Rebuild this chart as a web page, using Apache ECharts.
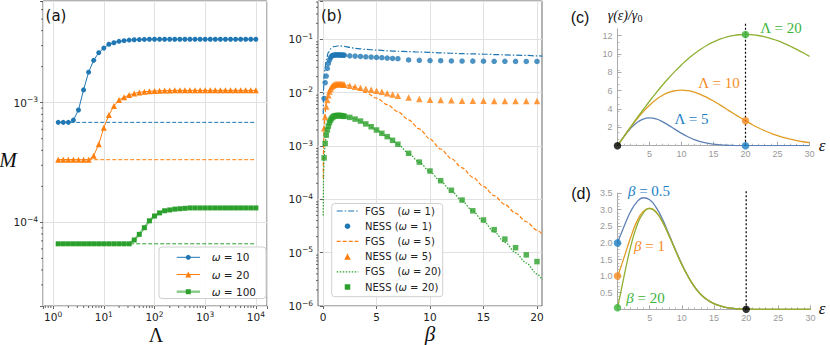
<!DOCTYPE html>
<html><head><meta charset="utf-8">
<script src="https://cdn.jsdelivr.net/npm/echarts@6/dist/echarts.min.js"></script>
<style>html,body{margin:0;padding:0;background:#fff}#c{width:830px;height:345px}</style>
</head><body><div id="c"></div>
<script>
// ---------- Panel (a): M vs Lambda ----------
const lambdaVals = [1.259,1.585,1.995,2.512,3.162,3.981,5.012,6.310,7.943,10,
  12.59,15.85,19.95,25.12,31.62,39.81,50.12,63.10,79.43,100,
  125.9,158.5,199.5,251.2,316.2,398.1,501.2,631.0,794.3,1000,
  1259,1585,1995,2512,3162,3981,5012,6310,7943,10000];
const mOmega10 = [6.85e-4,6.85e-4,6.85e-4,7.16e-4,8.69e-4,1.28e-3,1.80e-3,2.26e-3,2.62e-3,2.86e-3,
  3.08e-3,3.17e-3,3.26e-3,3.30e-3,3.34e-3,3.36e-3,3.37e-3,3.38e-3,3.39e-3,3.39e-3,
  3.39e-3,3.39e-3,3.39e-3,3.39e-3,3.39e-3,3.39e-3,3.39e-3,3.39e-3,3.39e-3,3.39e-3,
  3.39e-3,3.39e-3,3.39e-3,3.39e-3,3.39e-3,3.39e-3,3.39e-3,3.39e-3,3.39e-3,3.39e-3];
const mOmega20 = [3.34e-4,3.34e-4,3.34e-4,3.34e-4,3.34e-4,3.34e-4,3.34e-4,3.60e-4,4.49e-4,6.18e-4,
  7.89e-4,9.38e-4,1.054e-3,1.11e-3,1.16e-3,1.196e-3,1.22e-3,1.236e-3,1.245e-3,1.252e-3,
  1.258e-3,1.262e-3,1.265e-3,1.268e-3,1.268e-3,1.268e-3,1.268e-3,1.268e-3,1.268e-3,1.268e-3,
  1.268e-3,1.268e-3,1.268e-3,1.268e-3,1.268e-3,1.268e-3,1.268e-3,1.268e-3,1.268e-3,1.268e-3];
const mOmega100 = [6.62e-5,6.62e-5,6.62e-5,6.62e-5,6.62e-5,6.62e-5,6.62e-5,6.62e-5,6.62e-5,6.62e-5,
  6.62e-5,6.62e-5,6.62e-5,6.62e-5,6.62e-5,7.12e-5,7.94e-5,9.02e-5,1.03e-4,1.13e-4,
  1.20e-4,1.25e-4,1.27e-4,1.29e-4,1.30e-4,1.31e-4,1.32e-4,1.32e-4,1.32e-4,1.32e-4,
  1.32e-4,1.32e-4,1.32e-4,1.32e-4,1.32e-4,1.32e-4,1.32e-4,1.32e-4,1.32e-4,1.32e-4];
const mRefLevels = [6.85e-4, 3.34e-4, 6.62e-5];   // dashed reference lines
const aLegendNames = ['ω = 10','ω = 20','ω = 100'];

// ---------- Panel (b): vs beta ----------
const betaNess = [0.1,0.2,0.3,0.4,0.5,0.6,0.7,0.8,0.9,1.0,1.1,1.2,1.3,1.4,1.5,1.6,1.7,1.8,1.9,2.0,
  2.5,3,3.5,4,4.5,5,5.5,6,6.5,7,8,9,10,11,12,13,14,15,16,17,18,19,20];
const nessOmega1 = [0.0078,0.0154,0.0205,0.0286,0.0355,0.041,0.0453,0.0487,0.050,0.0505,0.0508,0.051,0.051,0.051,0.051,0.051,0.0509,0.0508,0.0507,0.0505,
  0.0493,0.0486,0.0479,0.0472,0.0466,0.046,0.0453,0.0446,0.044,0.0434,
  0.0412,0.0405,0.0401,0.0398,0.0395,0.0393,0.0391,0.039,0.0389,0.0388,0.0387,0.0386,0.0386];
const nessOmega5 = [0.00215,0.0035,0.0055,0.0073,0.009,0.0105,0.0118,0.0128,0.0135,0.014,0.0143,0.0145,0.0146,0.0146,0.0146,0.0146,0.0145,0.0144,0.0143,0.0141,
  0.0135,0.013,0.0124,0.0119,0.0114,0.0109,0.0104,0.0098,0.0093,0.0088,
  0.0081,0.0076,0.0074,0.0073,0.0072,0.0071,0.0071,0.0071,0.007,0.007,0.007,0.007,0.007];
const nessOmega20 = [6.0e-4,1.12e-3,1.6e-3,2.0e-3,2.37e-3,2.74e-3,3.05e-3,3.3e-3,3.48e-3,3.6e-3,3.67e-3,3.71e-3,3.73e-3,3.74e-3,3.74e-3,3.73e-3,3.71e-3,3.68e-3,3.64e-3,3.6e-3,
  3.45e-3,3.2e-3,2.94e-3,2.6e-3,2.3e-3,2.0e-3,1.73e-3,1.5e-3,1.28e-3,1.08e-3,
  7.3e-4,5.0e-4,3.4e-4,2.24e-4,1.48e-4,9.7e-5,6.1e-5,4.1e-5,2.7e-5,1.8e-5,1.24e-5,9.1e-6,6.8e-6];
const betaFgs = [0.02,0.05,0.1,0.2,0.3,0.5,0.75,1,1.5,2,2.5,3,4,5,6,7,8,9,10,11,12,13,14,15,16,17,18,19,20,20.5];
const fgsOmega1 = [0.004,0.011,0.021,0.030,0.042,0.057,0.067,0.073,0.076,0.074,0.071,0.068,0.065,0.063,0.061,0.060,0.059,0.058,0.057,0.056,0.055,0.054,0.0535,0.053,0.052,0.0513,0.0505,0.050,0.049,0.0487];
const fgsOmega5 = [2.5e-4,9e-4,2.1e-3,4.3e-3,6.3e-3,9.3e-3,0.0120,0.0136,0.0146,0.0143,0.0136,0.0126,0.0101,0.0079,0.0060,0.0044,0.0031,0.0021,0.00135,8.8e-4,5.8e-4,3.9e-4,2.6e-4,1.75e-4,1.17e-4,8.0e-5,5.5e-5,3.8e-5,2.65e-5,2.2e-5];
const fgsOmega20 = [5e-5,2.6e-4,6.0e-4,1.12e-3,1.6e-3,2.37e-3,3.15e-3,3.6e-3,3.74e-3,3.6e-3,3.45e-3,3.2e-3,2.6e-3,2.0e-3,1.5e-3,1.08e-3,7.3e-4,4.95e-4,3.3e-4,2.17e-4,1.42e-4,9.3e-5,6.0e-5,3.85e-5,2.45e-5,1.56e-5,1.0e-5,6.4e-6,4.0e-6,3.1e-6];
const bLegendNames = ['FGS (ω = 1)','NESS (ω = 1)','FGS (ω = 5)','NESS (ω = 5)','FGS (ω = 20)','NESS (ω = 20)'];
const bXTicks = [0,5,10,15,20];

// ---------- Panel (c): gamma(eps)/gamma0 ----------
const epsC = [0,1,2,3,4,5,6,7,8,9,10,11,12,13,14,15,16,17,18,19,20,21,22,23,24,25,26,27,28,29,30];
const gammaL5 = [0,0.98,1.85,2.51,2.90,3.03,2.92,2.63,2.22,1.78,1.35,0.98,0.67,0.44,0.28,0.17,0.10,0.05,0.03,0.01,0.01,0,0,0,0,0,0,0,0,0,0];
const gammaL10 = [0,1.00,1.96,2.87,3.69,4.41,5.01,5.48,5.81,6.00,6.07,6.01,5.84,5.58,5.25,4.87,4.45,4.01,3.56,3.13,2.71,2.32,1.96,1.63,1.35,1.10,0.88,0.71,0.56,0.43,0.33];
const gammaL20 = [0,1.00,1.99,2.97,3.92,4.85,5.74,6.58,7.38,8.13,8.82,9.46,10.02,10.52,10.96,11.32,11.62,11.85,12.00,12.10,12.13,12.10,12.02,11.87,11.68,11.45,11.17,10.85,10.51,10.14,9.74];
const cMarkEps = [20,20,20,0];
const cMarkVal = [12.13,2.71,0,0];
const cCutLine = [0,13.5];
const cXTicks = [5,10,15,20,25,30];
const cYTicks = [2,4,6,8,10,12];

// ---------- Panel (d) ----------
const epsD = [0,0.5,1,1.5,2,3,4,5,6,7,8,9,10,11,12,13,14,15,16,17,18,19,20,21,22,23,24,25,26,27,28,29,30];
const rateB05 = [2.0,2.25,2.49,2.72,2.93,3.23,3.36,3.30,3.07,2.71,2.26,1.80,1.36,0.98,0.67,0.44,0.28,0.17,0.10,0.05,0.03,0.01,0.01,0,0,0,0,0,0,0,0,0,0];
const rateB1 = [1.0,1.26,1.55,1.85,2.14,2.64,2.95,3.05,2.93,2.63,2.22,1.78,1.35,0.98,0.67,0.44,0.28,0.17,0.10,0.05,0.03,0.01,0.01,0,0,0,0,0,0,0,0,0,0];
const rateB20 = [0.05,0.50,0.98,1.43,1.85,2.51,2.90,3.03,2.92,2.63,2.22,1.78,1.35,0.98,0.67,0.44,0.28,0.17,0.10,0.05,0.03,0.01,0.01,0,0,0,0,0,0,0,0,0,0];
const dMarkEps = [0,0,0,20];
const dMarkVal = [2.0,1.0,0.05,0];
const dCutLine = [0,3.58];
const dXTicks = [5,10,15,20,25,30];
const dYTicks = [0.5,1.0,1.5,2.0,2.5,3.0,3.5];
const cutoffEps = 20;

// ---------- helpers ----------
const zip = (xs, ys) => xs.map((x, i) => [x, ys[i]]);
const C0 = '#1f77b4', C1 = '#ff7f0e', C2 = '#2ca02c';
const MB = '#5E81B5', MO = '#E19C24', MG = '#8FB032';
const PB = '#1c7ec4', PO = '#f68b1f', PG = '#3cb43c';
const TXT = '#222';

function powLabel(v) {
  const e = Math.log10(v), r = Math.round(e);
  if (Math.abs(e - r) > 1e-6) return '';
  return '10{sup|' + (r < 0 ? '\u2212' + (-r) : r) + '}';
}
const powRich = { sup: { fontSize: 7.5, verticalAlign: 'top', lineHeight: 9, fontFamily: 'DejaVu Sans', color: TXT } };

function minorTicks(xi, yi, dir, vals, ref) {
  return {
    type: 'custom', xAxisIndex: xi, yAxisIndex: yi, silent: true, z: 5, clip: false,
    data: vals.map(v => dir === 'x' ? [v, ref] : [ref, v]),
    renderItem: function (params, api) {
      const cs = params.coordSys;
      const p = api.coord([api.value(0), api.value(1)]);
      const shape = dir === 'x'
        ? { x1: p[0], y1: cs.y + cs.height, x2: p[0], y2: cs.y + cs.height + 2 }
        : { x1: cs.x - 2, y1: p[1], x2: cs.x, y2: p[1] };
      return { type: 'line', shape: shape, style: { stroke: '#444', lineWidth: 0.8 } };
    }
  };
}
function decadeMinors(lo, hi) {
  const out = [];
  for (let e = -7; e <= 5; e++) for (let k = 2; k <= 9; k++) {
    const v = k * Math.pow(10, e);
    if (v > lo * 1.001 && v < hi * 0.999) out.push(v);
  }
  return out;
}

const aXMin = 0.631, aXMax = 16600, aYMin = 2.0e-5, aYMax = 7.08e-3;
const bXMin = -0.47, bXMax = 20.47, bYMin = 1e-6, bYMax = 0.525;

const mplAxisCommon = {
  axisLine: { show: false },
  axisTick: { show: true, inside: false, length: 3, lineStyle: { color: '#444', width: 0.8 } },
  splitLine: { show: true, lineStyle: { color: '#e1e1e1', width: 1 } },
};
const mmaX = (gi, ticks) => ({
  type: 'value', gridIndex: gi, min: 0, max: 30,
  axisLine: { show: true, lineStyle: { color: '#aaa', width: 1 } },
  axisTick: { show: true, inside: true, length: 4, lineStyle: { color: '#aaa' }, customValues: ticks },
  minorTick: { show: true, splitNumber: 5, length: 2, lineStyle: { color: '#bbb' } },
  axisLabel: { customValues: ticks, color: '#999', fontSize: 9, margin: 4, fontFamily: 'Liberation Sans' },
  splitLine: { show: false }
});
const mmaY = (gi, max, ticks, minorSplit, fmt) => ({
  type: 'value', gridIndex: gi, min: 0, max: max,
  axisLine: { show: true, lineStyle: { color: '#aaa', width: 1 } },
  axisTick: { show: true, inside: true, length: 4, lineStyle: { color: '#aaa' }, customValues: ticks },
  minorTick: { show: true, splitNumber: minorSplit, length: 2, lineStyle: { color: '#bbb' } },
  axisLabel: { customValues: ticks, color: '#999', fontSize: 9, margin: 5, fontFamily: 'Liberation Sans', formatter: fmt },
  splitLine: { show: false }
});

const chart = echarts.init(document.getElementById('c'), null, { renderer: 'svg', width: 830, height: 345 });

const series = [
  // ---- (a)
  { type: 'line', name: aLegendNames[0], xAxisIndex: 0, yAxisIndex: 0, data: zip(lambdaVals, mOmega10), symbol: 'circle', symbolSize: 5, lineStyle: { width: 1, color: C0 }, itemStyle: { color: C0 }, z: 4 },
  { type: 'line', name: aLegendNames[1], xAxisIndex: 0, yAxisIndex: 0, data: zip(lambdaVals, mOmega20), symbol: 'triangle', symbolSize: 6, lineStyle: { width: 1, color: C1 }, itemStyle: { color: C1 }, z: 4 },
  { type: 'line', name: aLegendNames[2], xAxisIndex: 0, yAxisIndex: 0, data: zip(lambdaVals, mOmega100), symbol: 'rect', symbolSize: 5, lineStyle: { width: 2.5, color: C2, opacity: 0.55 }, itemStyle: { color: C2 }, z: 4 },
  ...mRefLevels.map((lv, i) => ({
    type: 'line', name: 'ref' + i, xAxisIndex: 0, yAxisIndex: 0,
    data: [[lambdaVals[0], lv], [lambdaVals[lambdaVals.length - 1], lv]],
    symbol: 'none', lineStyle: { width: 1, type: [4, 2], color: [C0, C1, C2][i] }, z: 3
  })),
  minorTicks(0, 0, 'x', decadeMinors(aXMin, aXMax), 1e-3),
  minorTicks(0, 0, 'y', decadeMinors(aYMin, aYMax), 10),
  // ---- (b)
  { type: 'line', name: bLegendNames[0], xAxisIndex: 1, yAxisIndex: 1, data: zip(betaFgs, fgsOmega1), symbol: 'none', smooth: 0.3, smoothMonotone: 'x', lineStyle: { width: 1.2, type: [6, 2, 1.5, 2], color: C0 }, z: 3 },
  { type: 'scatter', name: bLegendNames[1], xAxisIndex: 1, yAxisIndex: 1, data: zip(betaNess, nessOmega1), symbol: 'circle', symbolSize: 5.5, itemStyle: { color: C0 }, z: 4 },
  { type: 'line', name: bLegendNames[2], xAxisIndex: 1, yAxisIndex: 1, data: zip(betaFgs, fgsOmega5), symbol: 'none', smooth: 0.3, smoothMonotone: 'x', lineStyle: { width: 1.2, type: [4, 2], color: C1 }, z: 3 },
  { type: 'scatter', name: bLegendNames[3], xAxisIndex: 1, yAxisIndex: 1, data: zip(betaNess, nessOmega5), symbol: 'triangle', symbolSize: 6.5, itemStyle: { color: C1 }, z: 4 },
  { type: 'line', name: bLegendNames[4], xAxisIndex: 1, yAxisIndex: 1, data: zip(betaFgs, fgsOmega20), symbol: 'none', smooth: 0.3, smoothMonotone: 'x', lineStyle: { width: 1.2, type: [1.5, 1.5], color: C2 }, z: 3 },
  { type: 'scatter', name: bLegendNames[5], xAxisIndex: 1, yAxisIndex: 1, data: zip(betaNess, nessOmega20), symbol: 'rect', symbolSize: 5.5, itemStyle: { color: C2 }, z: 4 },
  minorTicks(1, 1, 'y', decadeMinors(bYMin, bYMax), 5),
  // ---- (c)
  { type: 'line', name: 'L5', xAxisIndex: 2, yAxisIndex: 2, data: zip(epsC, gammaL5), symbol: 'none', smooth: true, lineStyle: { width: 1.3, color: MB }, z: 3 },
  { type: 'line', name: 'L10', xAxisIndex: 2, yAxisIndex: 2, data: zip(epsC, gammaL10), symbol: 'none', smooth: true, lineStyle: { width: 1.3, color: MO }, z: 3 },
  { type: 'line', name: 'L20', xAxisIndex: 2, yAxisIndex: 2, data: zip(epsC, gammaL20), symbol: 'none', smooth: true, lineStyle: { width: 1.3, color: MG }, z: 3 },
  { type: 'line', name: 'cutC', xAxisIndex: 2, yAxisIndex: 2, data: cCutLine.map(v => [cutoffEps, v]), symbol: 'none', clip: false, lineStyle: { width: 1.2, type: [2, 2], color: '#000' }, z: 4 },
  { type: 'scatter', name: 'markC', xAxisIndex: 2, yAxisIndex: 2, data: zip(cMarkEps, cMarkVal), symbolSize: 7.5, clip: false, z: 6,
    itemStyle: { color: p => [PG, PO, PB, '#000'][p.dataIndex] } },
  // ---- (d)
  { type: 'line', name: 'B05', xAxisIndex: 3, yAxisIndex: 3, data: zip(epsD, rateB05), symbol: 'none', smooth: true, lineStyle: { width: 1.3, color: MB }, z: 3 },
  { type: 'line', name: 'B1', xAxisIndex: 3, yAxisIndex: 3, data: zip(epsD, rateB1), symbol: 'none', smooth: true, lineStyle: { width: 1.3, color: MO }, z: 3 },
  { type: 'line', name: 'B20', xAxisIndex: 3, yAxisIndex: 3, data: zip(epsD, rateB20), symbol: 'none', smooth: true, lineStyle: { width: 1.3, color: MG }, z: 3 },
  { type: 'line', name: 'cutD', xAxisIndex: 3, yAxisIndex: 3, data: dCutLine.map(v => [cutoffEps, v]), symbol: 'none', clip: false, lineStyle: { width: 1.2, type: [2, 2], color: '#000' }, z: 4 },
  { type: 'scatter', name: 'markD', xAxisIndex: 3, yAxisIndex: 3, data: zip(dMarkEps, dMarkVal), symbolSize: 7.5, clip: false, z: 6,
    itemStyle: { color: p => [PB, PO, PG, '#000'][p.dataIndex] } },
];

function txt(x, y, text, opts) {
  return { type: 'text', x: x, y: y, silent: true, z: 100,
    style: Object.assign({ text: text, align: 'center', verticalAlign: 'middle', fill: '#111', fontFamily: 'DejaVu Sans', fontSize: 15 }, opts || {}) };
}
const richI = { i: { fontStyle: 'italic', fontFamily: 'Liberation Serif', fontSize: 15 } };

// ---- hand-laid legends (matplotlib style boxes) ----
function legBox(x, y, w, h) {
  return { type: 'rect', silent: true, z: 100, shape: { x: x, y: y, width: w, height: h, r: 3 },
    style: { fill: 'rgba(255,255,255,0.88)', stroke: '#d0d0d0', lineWidth: 1 } };
}
function legLine(x1, x2, y, color, dash, width, opacity) {
  return { type: 'line', silent: true, z: 101, shape: { x1: x1, y1: y, x2: x2, y2: y },
    style: { stroke: color, lineWidth: width, lineDash: dash, opacity: opacity } };
}
function legMarker(kind, cx, cy, s, color) {
  if (kind === 'circle') return { type: 'circle', silent: true, z: 102, shape: { cx: cx, cy: cy, r: s / 2 }, style: { fill: color } };
  if (kind === 'rect') return { type: 'rect', silent: true, z: 102, shape: { x: cx - s / 2, y: cy - s / 2, width: s, height: s }, style: { fill: color } };
  return { type: 'polygon', silent: true, z: 102, shape: { points: [[cx, cy - s / 2], [cx + s / 2, cy + s / 2], [cx - s / 2, cy + s / 2]] }, style: { fill: color } };
}
function legText(x, y, text, fs) {
  return { type: 'text', silent: true, z: 103, x: x, y: y,
    style: { text: text, fontSize: fs, fontFamily: 'DejaVu Sans', fill: TXT, align: 'left', verticalAlign: 'middle',
      rich: { i: { fontStyle: 'italic', fontSize: fs, fontFamily: 'DejaVu Sans', fill: TXT } } } };
}
const legA = [legBox(159, 247, 107, 51.5)];
const aStyles = [
  { c: C0, m: 'circle', s: 5, w: 1, o: 1 },
  { c: C1, m: 'triangle', s: 6, w: 1, o: 1 },
  { c: C2, m: 'rect', s: 5, w: 2.5, o: 0.55 },
];
aLegendNames.forEach((n, i) => {
  const y = 257.3 + i * 17.2, st = aStyles[i];
  legA.push(legLine(176.7, 200, y, st.c, null, st.w, st.o));
  legA.push(legMarker(st.m, 188.3, y, st.s, st.c));
  legA.push(legText(211.7, y, n.replace('ω', '{i|ω}'), 10.5));
});
const legB = [legBox(331.7, 203.5, 111, 93.2)];
const bStyles = [
  { c: C0, dash: [6, 2, 1.5, 2] }, { c: C0, m: 'circle', s: 5.5 },
  { c: C1, dash: [4, 2] }, { c: C1, m: 'triangle', s: 6.5 },
  { c: C2, dash: [1.5, 1.5] }, { c: C2, m: 'rect', s: 5.5 },
];
bLegendNames.forEach((n, i) => {
  const y = 211 + i * 15.2, st = bStyles[i];
  if (st.dash) legB.push(legLine(336.7, 358.3, y, st.c, st.dash, 1.2, 1));
  else legB.push(legMarker(st.m, 347.5, y, st.s, st.c));
  const m = n.match(/^(\w+) \(ω = (\d+)\)$/);
  const head = m[1] === 'FGS' ? 'FGS\u00a0\u00a0\u00a0\u00a0' : 'NESS\u00a0';
  legB.push(legText(365, y, head + '({i|ω} = ' + m[2] + ')', 10));
});

const option = {
  animation: false,
  textStyle: { fontFamily: 'DejaVu Sans' },
  grid: [
    { left: 43, top: 1, width: 224, height: 305, show: true, borderColor: '#666', borderWidth: 1, backgroundColor: 'transparent', outerBoundsMode: 'none', containLabel: false },
    { left: 318, top: 1, width: 224, height: 305, show: true, borderColor: '#666', borderWidth: 1, backgroundColor: 'transparent', outerBoundsMode: 'none', containLabel: false },
    { left: 617.5, top: 28.8, width: 192, height: 116.9, outerBoundsMode: 'none', containLabel: false },
    { left: 617.5, top: 193.1, width: 193, height: 116.2, outerBoundsMode: 'none', containLabel: false },
  ],
  xAxis: [
    Object.assign({ type: 'log', logBase: 10, gridIndex: 0, min: aXMin, max: aXMax,
      axisLabel: { formatter: powLabel, rich: powRich, fontSize: 10.5, color: TXT, margin: 4, lineHeight: 13, showMinLabel: true, showMaxLabel: true } }, mplAxisCommon),
    Object.assign({ type: 'value', gridIndex: 1, min: bXMin, max: bXMax }, mplAxisCommon,
      { axisTick: { show: true, inside: false, length: 3, lineStyle: { color: '#444', width: 0.8 }, customValues: bXTicks },
        axisLabel: { customValues: bXTicks, fontSize: 10.5, color: TXT, margin: 5, lineHeight: 12 },
        splitLine: { show: true, lineStyle: { color: '#e1e1e1', width: 1 } } }),
    mmaX(2, cXTicks),
    mmaX(3, dXTicks),
  ],
  yAxis: [
    Object.assign({ type: 'log', logBase: 10, gridIndex: 0, min: aYMin, max: aYMax,
      axisLabel: { formatter: powLabel, rich: powRich, fontSize: 10.5, color: TXT, margin: 5, lineHeight: 14, showMinLabel: true, showMaxLabel: true } }, mplAxisCommon),
    Object.assign({ type: 'log', logBase: 10, gridIndex: 1, min: bYMin, max: bYMax,
      axisLabel: { formatter: powLabel, rich: powRich, fontSize: 10.5, color: TXT, margin: 5, lineHeight: 14, showMinLabel: true, showMaxLabel: true } }, mplAxisCommon),
    mmaY(2, 12.75, cYTicks, 4, v => String(v)),
    mmaY(3, 3.5, dYTicks, 5, v => v.toFixed(1)),
  ],
  series: series,
  graphic: [
    ...legA, ...legB,
    txt(56, 16, '(a)', { fontSize: 15 }),
    txt(331.5, 16, '(b)', { fontSize: 15 }),
    txt(580, 17.5, '(c)', { fontSize: 16, fontFamily: 'Liberation Sans' }),
    txt(581, 193.7, '(d)', { fontSize: 16, fontFamily: 'Liberation Sans' }),
    txt(8, 160, 'M', { fontStyle: 'italic', fontFamily: 'Liberation Serif', fontSize: 21 }),
    txt(156, 334.5, 'Λ', { fontFamily: 'Liberation Serif', fontSize: 20 }),
    txt(430, 334, 'β', { fontStyle: 'italic', fontFamily: 'Liberation Serif', fontSize: 21 }),
    txt(625, 15, '{i|γ}(ε)/{i|γ}{s|0}', { fontFamily: 'Liberation Serif', fontSize: 14, fontStyle: 'italic',
      rich: { i: { fontStyle: 'italic', fontFamily: 'Liberation Serif', fontSize: 14 }, s: { fontFamily: 'Liberation Serif', fontSize: 10, verticalAlign: 'bottom', padding: [6, 0, 0, 0] } } }),
    txt(822, 145, 'ε', { fontStyle: 'italic', fontFamily: 'Liberation Serif', fontSize: 17 }),
    txt(822, 308.5, 'ε', { fontStyle: 'italic', fontFamily: 'Liberation Serif', fontSize: 17 }),
    txt(781, 28.3, 'Λ = 20', { fontFamily: 'Liberation Serif', fontSize: 15, fill: PG }),
    txt(719, 83, 'Λ = 10', { fontFamily: 'Liberation Serif', fontSize: 15, fill: PO }),
    txt(691.5, 118.5, 'Λ = 5', { fontFamily: 'Liberation Serif', fontSize: 15, fill: PB }),
    txt(649, 191, '{i|β} = 0.5', { fontFamily: 'Liberation Serif', fontSize: 15, fill: PB, rich: richI }),
    txt(649.5, 246, '{i|β} = 1', { fontFamily: 'Liberation Serif', fontSize: 15, fill: PO, rich: richI }),
    txt(645.5, 298, '{i|β} = 20', { fontFamily: 'Liberation Serif', fontSize: 15, fill: PG, rich: richI }),
  ]
};
chart.setOption(option);
</script></body></html>
